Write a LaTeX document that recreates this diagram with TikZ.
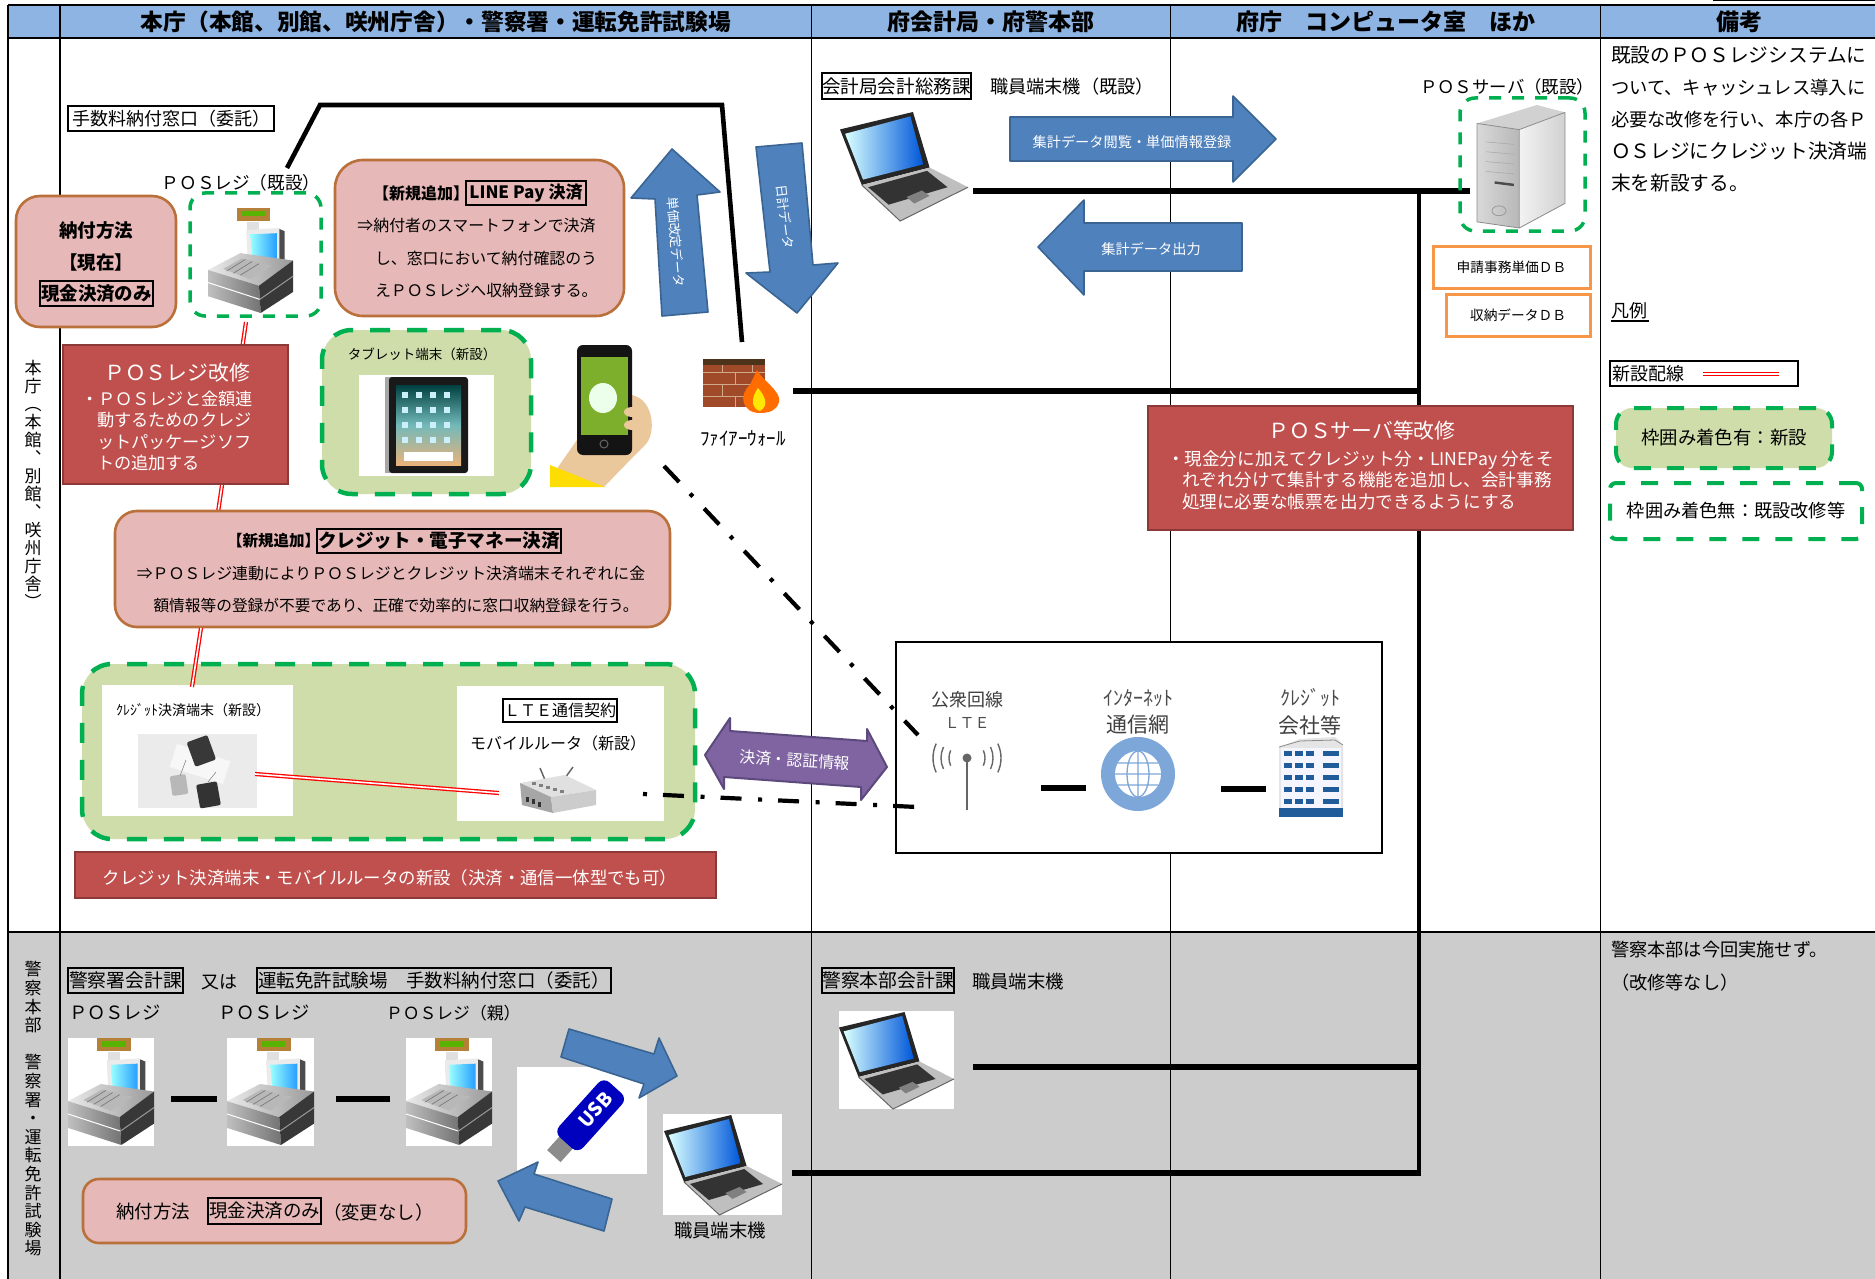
\documentclass[tikz,border=0pt]{standalone}
\usepackage{fontspec}
\setmainfont{Noto Sans CJK JP}
\lineskiplimit=-100pt
\definecolor{headblue}{HTML}{8DB4E2}
\definecolor{rowgray}{HTML}{CCCCCC}
\definecolor{pinkfill}{HTML}{E6B8B7}
\definecolor{pinkedge}{HTML}{B9703A}
\definecolor{redfill}{HTML}{C0504D}
\definecolor{rededge}{HTML}{8C3A38}
\definecolor{greenfill}{HTML}{CFDDAB}
\definecolor{dashgreen}{HTML}{00B050}
\definecolor{orangeedge}{HTML}{F79646}
\definecolor{bluefill}{HTML}{4F81BD}
\definecolor{blueedge}{HTML}{3A6593}
\definecolor{purplefill}{HTML}{8064A2}
\definecolor{purpleedge}{HTML}{5C4A7D}
\definecolor{globeblue}{HTML}{7DA7D9}
\definecolor{bldblue}{HTML}{1F5C99}
\definecolor{brick}{HTML}{A04A2A}
\definecolor{mortar}{HTML}{CFA98A}
\definecolor{phonegreen}{HTML}{7DAF2C}
\definecolor{skin}{HTML}{EBC79C}
\newcommand\bx[7]{%
  \pgfmathsetmacro\bxcx{(#3+#5)/2}\pgfmathsetmacro\bxcy{(#4+#6)/2}%
  \pgfmathsetmacro\bxw{#5-#3}\pgfmathsetmacro\bxh{#6-#4}%
  \node[#2,minimum width=\bxw pt,minimum height=\bxh pt,inner sep=0pt,outer sep=0pt] (#1) at (\bxcx,\bxcy) {#7};}
\newcommand\posimg[4]{\begin{scope}[shift={(#1,#2)},xscale=#3/100,yscale=#4/100]
  \fill[black!12] (46,13) rectangle (60,26);
  \fill[black!45!yellow!70!red] (34,0) rectangle (73,12);
  \fill[green!50!yellow!70!black] (40,3) rectangle (67,8);
  \fill[black!8] (45,21)--(84,19)--(84,55)--(47,53)--cycle;
  \fill[black!70] (84,20)--(90,22)--(90,54)--(84,54)--cycle;
  \shade[left color=cyan!40!white,right color=cyan!55!blue!85!white] (50,25)--(81,24)--(81,50)--(52,48)--cycle;
  \shade[left color=black!8,right color=black!40] (0,59)--(38,43)--(100,50)--(60,74)--cycle;
  \fill[black!28] (18,58)--(40,48)--(75,55)--(50,68)--cycle;
  \foreach \kk in {0,1,2}{\draw[black!55,line width=0.6pt] (22+\kk*8,60+\kk*2)--(44+\kk*8,49+\kk*2);}
  \shade[left color=black!25,right color=black!55] (0,59)--(60,74)--(62,100)--(0,84)--cycle;
  \draw[white,line width=1pt] (0,71)--(61,87);
  \fill[black!78] (60,74)--(100,50)--(100,80)--(62,100)--cycle;
  \draw[black!40,line width=1pt] (61,87)--(100,65);
\end{scope}}
\newcommand\laptopimg[4]{\begin{scope}[shift={(#1,#2)},xscale=#3/100,yscale=#4/100]
  \fill[black!85] (0,16)--(57,0)--(70,51)--(17,67)--cycle;
  \shade[left color=cyan!15!white,right color=blue!60!cyan!85!black] (4,20)--(55,4)--(65,48)--(18,62)--cycle;
  \fill[black!25] (17,67)--(70,51)--(100,69)--(47,100)--cycle;
  \fill[black!80] (22,69)--(68,54)--(84,69)--(38,85)--cycle;
  \fill[black!50] (52,78)--(64,72)--(70,77)--(58,84)--cycle;
  \draw[black!60,line width=1pt] (17,67)--(47,100)--(100,69);
\end{scope}}
\begin{document}
\begin{tikzpicture}[x=1pt,y=-1pt,
  fs/.style={font=\fontsize{#1}{#1}\selectfont},
  fl/.style n args={2}{font=\fontsize{#1}{#2}\selectfont},
  txt/.style={inner sep=0pt,outer sep=0pt,text=black},
  wtxt/.style={inner sep=0pt,outer sep=0pt,text=white},
  tag/.style={draw=black,line width=1.6pt,text=black},
  pinkbox/.style={draw=pinkedge,fill=pinkfill,line width=2.6pt,rounded corners=#1},
  redbox/.style={draw=rededge,fill=redfill,line width=2.4pt},
  greenbox/.style={draw=dashgreen,fill=greenfill,line width=4.5pt,rounded corners=30pt,dash pattern=on 20pt off 17pt},
  dashbox/.style={draw=dashgreen,line width=3.5pt,rounded corners=15pt,dash pattern=on 12pt off 11pt},
  orangebox/.style={draw=orangeedge,fill=white,line width=3pt,text=black},
  wire/.style={draw=black,line width=4.6pt},
  thinwire/.style={draw=black,line width=6pt},
  newwire/.style={draw=red,double=white,double distance=1.6pt,line width=1.3pt},
  dashdot/.style={draw=black,line width=4.2pt,dash pattern=on 22pt off 16pt on 4pt off 16.4pt},
  blueshape/.style={fill=bluefill,draw=blueedge,line width=1.6pt,line join=round},
  grid/.style={draw=black}]
\useasboundingbox (0,0) rectangle (1875,1279);
\fill[white] (0,0) rectangle (1875,1279);
% table
\fill[rowgray] (8,932) rectangle (1875,1279);
\fill[headblue] (8,5) rectangle (1875,38);
\draw[grid,line width=1.6pt] (8,5)--(1875,5);
\draw[grid,line width=2.2pt] (8,38)--(1875,38);
\draw[grid,line width=2.4pt] (8,932)--(1875,932);
\draw[grid,line width=1.4pt] (8,5)--(8,1279);
\draw[grid,line width=2pt] (60,5)--(60,1279);
\draw[grid,line width=1pt] (811.5,5)--(811.5,1279);
\draw[grid,line width=1pt] (1170,5)--(1170,1279);
\draw[grid,line width=1.6pt] (1600.5,5)--(1600.5,1279);
\draw[grid,line width=1.6pt] (1713,0.5)--(1875,0.5);
\node[txt,font=\fontsize{22.7}{22.7}\selectfont\bfseries] (h1) at (436,22) {本庁（本館、別館、咲州庁舎）・警察署・運転免許試験場};
\node[txt,font=\fontsize{23}{23}\selectfont\bfseries] (h2) at (990.5,22) {府会計局・府警本部};
\node[txt,font=\fontsize{23}{23}\selectfont\bfseries] (h3) at (1386,22) {府庁　コンピュータ室　ほか};
\node[txt,font=\fontsize{23}{23}\selectfont\bfseries] (h4) at (1739,22) {備考};
\node[txt,fl={17}{18},align=center] (r1) at (33,484) {本\\庁\\︵\\本\\館\\︑\\別\\館\\︑\\咲\\州\\庁\\舎\\︶};
\node[txt,fl={17}{18.6},align=center] (r2) at (33,1109) {警\\察\\本\\部\\　\\警\\察\\署\\・\\運\\転\\免\\許\\試\\験\\場};
% wires
\coordinate (w1) at (287,168);\coordinate (w2) at (320,105);\coordinate (w3) at (722,105);\coordinate (w4) at (742,342);
\draw[wire,line join=miter] (w1)--(w2)--(w3)--(w4);
\coordinate (lapR) at (973,191);\coordinate (srvL) at (1470,191);
\draw[thinwire] (lapR)--(srvL);
\coordinate (fwR) at (793,391);\coordinate (busA) at (1419,391);
\draw[thinwire] (fwR)--(busA);
\coordinate (busTop) at (1419,191);\coordinate (busBot) at (1419,1176);
\draw[wire] (busTop)--(busBot);
\coordinate (lap2R) at (973,1067);\coordinate (busB) at (1419,1067);
\draw[thinwire] (lap2R)--(busB);
\coordinate (lap3R) at (792,1173);\coordinate (busC) at (1421,1173);
\draw[thinwire] (lap3R)--(busC);
\coordinate (r1a) at (246,322);\coordinate (r1b) at (201,628);
\draw[newwire] (r1a)--(r1b);
% blue arrows, top
\draw[blueshape] (672,149)--(720,192)--(697,195)--(708,312)--(662,316)--(655,199)--(631,198)--cycle;
\node[wtxt,fs=13,rotate=-85] (ta1) at (676,242) {単価改定データ};
\draw[blueshape] (756,147)--(802,143)--(813,265)--(838,263)--(797,313)--(746,273)--(770,272)--cycle;
\node[wtxt,fs=13,rotate=-83] (ta2) at (785,217) {日計データ};
\draw[blueshape] (1010,117)--(1233,117)--(1233,96)--(1276,139)--(1233,182)--(1233,161)--(1010,161)--cycle;
\node[wtxt,fs=14.2] (ta3) at (1132,142) {集計データ閲覧・単価情報登録};
\draw[blueshape] (1038,247)--(1084,200)--(1084,223)--(1242,223)--(1242,271)--(1084,271)--(1084,295)--cycle;
\node[wtxt,fs=14.2] (ta4) at (1151,249) {集計データ出力};
% top left
\bx{tagA}{tag,fs=18}{68}{106}{274}{131}{手数料納付窓口（委託）}
\node[txt,fs=17.6] (posLbl) at (241,183) {ＰＯＳレジ（既設）};
\bx{posBox}{dashbox}{190}{193}{321}{316}{}
\posimg{208}{208}{85}{105}
\bx{payBox}{pinkbox=24pt}{16}{196}{176}{327}{}
\node[txt,fl={18.5}{32}\bfseries,align=center] (payT) at (96,246) {納付方法\\【現在】};
\bx{payTag}{tag,font=\fontsize{18.5}{18.5}\selectfont\bfseries}{40}{281}{153}{306}{現金決済のみ}
% LINE Pay
\bx{lineBox}{pinkbox=28pt}{335}{160}{624}{316}{}
\bx{lineTag}{tag,line width=1.3pt,font=\fontsize{17}{17}\selectfont\bfseries}{466}{181}{586}{205}{LINE Pay 決済}
\node[txt,anchor=east,font=\fontsize{16}{16}\selectfont\bfseries] (lineHd) at (469,193) {【新規追加】};
\node[txt,fs=15.9] (lineL1) at (476.5,226) {⇒納付者のスマートフォンで決済};
\node[txt,fs=15.9,anchor=west] (lineL2) at (375,258) {し、窓口において納付確認のう};
\node[txt,fs=15.9,anchor=west] (lineL3) at (375,290) {えＰＯＳレジへ収納登録する。};
% red POS
\bx{redPOS}{redbox}{63}{345}{288}{484}{}
\node[wtxt,fs=20.8] (redPOSt) at (177,373) {ＰＯＳレジ改修};
\node[wtxt,fl={17.2}{21.3},align=left,anchor=west] (redPOSb) at (81,431) {・ＰＯＳレジと金額連\\\hspace*{16pt}動するためのクレジ\\\hspace*{16pt}ットパッケージソフ\\\hspace*{16pt}トの追加する};
% tablet
\bx{tabBox}{greenbox}{322}{330}{531}{494}{}
\node[txt,fs=13.5] (tabLbl) at (422,354) {タブレット端末（新設）};
\bx{tabWhite}{fill=white}{359}{375}{494}{476}{}
\fill[black!35] (385,377) rectangle (394,473);
\fill[black!90,rounded corners=3pt] (389,377) rectangle (468,473);
\shade[top color=teal!50!black,bottom color=orange!45!brown!60!white,middle color=teal!55!white] (396,385) rectangle (461,465);
\foreach \ix in {0,1,2,3}{\foreach \iy in {0,1,2,3}{\fill[white!80!cyan] (402+\ix*14,392+\iy*15) rectangle ++(6,6);}}
\fill[white!75] (404,452) rectangle (453,461);
% phone
\fill[skin] (632,395) .. controls (655,400) and (656,435) .. (645,445) -- (632,458) -- (604,487) -- (556,470) -- (577,440) -- cycle;
\fill[yellow!80!orange] (550,465)--(605,487)--(550,487)--cycle;
\fill[black!92,rounded corners=6pt] (577,345) rectangle (632,455);
\fill[phonegreen] (581,357) rectangle (628,435);
\fill[white!92!green] (603,398) ellipse (14 and 15);
\fill[skin] (632,412) ellipse (8 and 5) (632,425) ellipse (8 and 5);
\draw[black!60,line width=1pt] (604,444) circle (4);
% firewall
\fill[brick] (703,359) rectangle (765,407);
\fill[black!60!brown] (703,359) rectangle (765,365);
\foreach \yy in {372,384,396}{\draw[mortar,line width=1pt] (703,\yy)--(765,\yy);}
\foreach \xx in {722,752}{\draw[mortar,line width=1pt] (\xx,365)--(\xx,372) (\xx,384)--(\xx,396);}
\foreach \xx in {735}{\draw[mortar,line width=1pt] (\xx,372)--(\xx,384) (\xx,396)--(\xx,407);}
\fill[orange!85!red] (760,413) .. controls (742,413) and (738,395) .. (750,385) .. controls (752,380) and (755,375) .. (757,370) .. controls (762,380) and (782,392) .. (779,402) .. controls (777,410) and (770,413) .. (760,413) -- cycle;
\fill[yellow!90!orange] (760,411) .. controls (752,409) and (750,399) .. (758,388) .. controls (764,395) and (770,405) .. (760,411) -- cycle;
\node[txt,fs=19] (fwLbl) at (743,438) {ﾌｧｲｱｰｳｫｰﾙ};
% credit pink box
\bx{crBox}{pinkbox=22pt}{115}{511}{670}{627}{}
\bx{crTag}{tag,line width=1.3pt,font=\fontsize{18.6}{18.6}\selectfont\bfseries}{317}{529}{561}{553}{クレジット・電子マネー決済}
\node[txt,anchor=east,font=\fontsize{15.5}{15.5}\selectfont\bfseries] (crHd) at (320,541) {【新規追加】};
\node[txt,fs=15.9] (crL1) at (391,574) {⇒ＰＯＳレジ連動によりＰＯＳレジとクレジット決済端末それぞれに金};
\node[txt,fs=15.7] (crL2) at (396,606) {額情報等の登録が不要であり、正確で効率的に窓口収納登録を行う。};
% big green
\bx{bigBox}{greenbox}{82}{664}{695}{839}{}
\bx{cardWhite}{fill=white}{102}{685}{293}{816}{}
\bx{rtWhite}{fill=white}{457}{686}{664}{821}{}
\coordinate (r1c) at (201,628);\coordinate (r1d) at (192,687);
\draw[newwire] (r1c)--(r1d);
\node[txt,fs=14] (cardLbl) at (193,710) {ｸﾚｼﾞｯﾄ決済端末（新設）};
\fill[black!8] (138,734) rectangle (257,808);
\fill[black!3,rotate around={-18:(200,764)}] (172,752) rectangle (228,776);
\fill[black!78,rounded corners=2pt,rotate around={20:(201,750)}] (190,738) rectangle (212,764);
\fill[black!28,rounded corners=2pt,rotate around={8:(179,785)}] (171,775) rectangle (187,795);
\fill[black!80,rounded corners=2pt,rotate around={10:(208,795)}] (198,783) rectangle (219,807);
\draw[black!45,line width=0.6pt] (180,776)--(186,760) (208,782)--(216,772);
\bx{lteTag}{tag,fs=16}{503}{699}{617}{722}{ＬＴＥ通信契約}
\node[txt,fs=16] (rtLbl) at (558,743) {モバイルルータ（新設）};
\draw[black!60,line width=1.5pt] (545,780)--(540,768) (565,778)--(573,767);
\fill[black!12] (520,783)--(565,775)--(596,790)--(551,797)--cycle;
\fill[black!35] (520,783)--(551,797)--(553,813)--(522,805)--cycle;
\fill[black!20] (551,797)--(596,790)--(596,805)--(553,813)--cycle;
\foreach \dx in {0,7,14,21,28}{\fill[black!50] (532+\dx,782+0.3*\dx) rectangle ++(4,3);}
\foreach \dx in {0,6,12}{\fill[black!80] (526+\dx,797+0.4*\dx) rectangle ++(3,5);}
\coordinate (c1) at (255,774);\coordinate (c2) at (499,793);
\draw[newwire] (c1)--(c2);
\bx{redBar}{redbox}{75}{852}{716}{898}{}
\node[wtxt,fs=17.4] (redBarT) at (390,878) {クレジット決済端末・モバイルルータの新設（決済・通信一体型でも可）};
% purple arrow
\draw[fill=purplefill,draw=purpleedge,line width=2pt,line join=round] (705,755)--(730,718)--(730,731)--(867,741)--(867,729)--(887,767)--(861,800)--(861,787)--(724,777)--(724,789)--cycle;
\node[wtxt,fs=15.8,rotate=-4] (purT) at (795,760) {決済・認証情報};
% network box
\bx{netBox}{draw=black,fill=white,line width=1.6pt}{896}{642}{1382}{853}{}
\coordinate (d1a) at (664,466);\coordinate (d1b) at (918,735);
\draw[dashdot] (d1a)--(d1b);
\coordinate (d2a) at (643,794);\coordinate (d2b) at (917,807);
\draw[dashdot,dash pattern=on 4pt off 16pt on 21pt off 16.6pt] (d2a)--(d2b);
\node[txt,fs=18,text=black!75] (n1) at (967,700) {公衆回線};
\node[txt,fs=15,text=black!70] (n2) at (967,723) {ＬＴＥ};
\draw[black!60,line width=2pt] (967,758)--(967,810);
\fill[black!60] (967,758) circle (4.5);
\foreach \rr in {18,26,34}{\draw[black!60,line width=1.4pt] (967,758) ++(-25:\rr) arc (-25:25:\rr);\draw[black!60,line width=1.4pt] (967,758) ++(155:\rr) arc (155:205:\rr);}
\node[txt,fs=20,text=black!70] (n3) at (1138,698) {ｲﾝﾀｰﾈｯﾄ};
\node[txt,fs=21,text=black!75] (n4) at (1138,725) {通信網};
\fill[globeblue] (1138,774) circle (37);
\fill[white] (1138,774) circle (23);
\draw[globeblue,line width=1.3pt] (1138,774) ellipse (11 and 23) (1138,751)--(1138,797) (1115,774)--(1161,774) (1118,763)--(1158,763) (1118,785)--(1158,785);
\node[txt,fs=20,text=black!70] (n5) at (1310,698) {ｸﾚｼﾞｯﾄ};
\node[txt,fs=21,text=black!75] (n6) at (1310,725) {会社等};
\fill[black!10] (1279,747) -- (1300,739) -- (1335,737) -- (1343,745) -- (1343,812) -- (1279,812) -- cycle;
\draw[black!45,line width=0.8pt] (1279,747)--(1300,741)--(1335,740)--(1343,745);
\fill[white!96!blue] (1281,748) rectangle (1341,808);
\foreach \wy in {751,763,775,787,799}{%
  \foreach \wx in {1284,1295,1306}{\fill[bldblue] (\wx,\wy) rectangle ++(8,5);}
  \fill[bldblue] (1323,\wy) rectangle ++(16,5);}
\fill[bldblue] (1279,808) rectangle (1343,817);
\coordinate (nl1a) at (1041,788);\coordinate (nl1b) at (1086,788);
\draw[thinwire] (nl1a)--(nl1b);
\coordinate (nl2a) at (1221,789);\coordinate (nl2b) at (1266,789);
\draw[thinwire] (nl2a)--(nl2b);
% FU section
\bx{tagB}{tag,fs=18.6}{822}{73}{971}{99}{会計局会計総務課}
\node[txt,fs=18.2,anchor=west] (termLbl) at (990,87) {職員端末機（既設）};
\laptopimg{840}{112}{128}{109}
\node[txt,fs=17.4,anchor=east] (srvLbl) at (1594,87) {ＰＯＳサーバ（既設）};
\bx{srvBox}{dashbox}{1460}{98}{1585}{231}{}
\begin{scope}[shift={(1477,105)},xscale=0.88,yscale=1.23]
\fill[black!18] (0,15)--(68,0)--(100,6)--(48,20)--cycle;
\shade[left color=black!15,right color=black!28] (0,15)--(48,20)--(48,100)--(0,95)--cycle;
\shade[left color=black!5,right color=black!18] (48,20)--(100,6)--(100,80)--(48,100)--cycle;
\draw[black!45,line width=0.8pt] (0,15)--(48,20)--(100,6) (48,20)--(48,100)--(0,95)--(0,15) (48,100)--(100,80)--(100,6);
\foreach \sy in {30,38,46,54}{\draw[black!35,line width=0.5pt] (10,\sy)--(42,\sy+2);}
\fill[black!70] (20,62)--(42,64)--(42,66)--(20,64)--cycle;
\draw[black!40,line width=0.8pt] (25,86) ellipse (8 and 4);
\end{scope}
\bx{db1}{orangebox,fs=13.7}{1433}{246}{1590}{288}{\raisebox{-2pt}{申請事務単価ＤＢ}}
\bx{db2}{orangebox,fs=13.7}{1446}{294}{1590}{336}{\raisebox{-2pt}{収納データＤＢ}}
\bx{redSrv}{redbox}{1148}{406}{1573}{530}{}
\node[wtxt,fs=20.8] (redSrvT) at (1362,431) {ＰＯＳサーバ等改修};
\node[wtxt,fl={17.6}{21.5},align=left,anchor=west] (redSrvB) at (1167,480) {・現金分に加えてクレジット分・LINEPay 分をそ\\\hspace*{15pt}れぞれ分けて集計する機能を追加し、会計事務\\\hspace*{15pt}処理に必要な帳票を出力できるようにする};
% remarks
\node[txt,fs=19.7,anchor=west] (rm1) at (1611,55) {既設のＰＯＳレジシステムに};
\node[txt,fs=18.3,anchor=west] (rm2) at (1611,87.5) {ついて、キャッシュレス導入に};
\node[txt,fs=18.3,anchor=west] (rm3) at (1611,119.5) {必要な改修を行い、本庁の各Ｐ};
\node[txt,fs=19.7,anchor=west] (rm4) at (1611,151) {ＯＳレジにクレジット決済端};
\node[txt,fs=19.7,anchor=west] (rm5) at (1611,183) {末を新設する。};
\node[txt,fs=18,anchor=west] (lg0) at (1611,311) {凡例};
\coordinate (lgU1) at (1611,321);\coordinate (lgU2) at (1649,321);
\draw[black,line width=2.4pt] (lgU1)--(lgU2);
\bx{lg1}{draw=black,fill=white,line width=2pt}{1610}{361}{1798}{386}{}
\node[txt,fs=18,anchor=west] (lg1t) at (1612,374) {新設配線};
\coordinate (lgA) at (1703,374);\coordinate (lgB) at (1779,374);
\draw[newwire] (lgA)--(lgB);
\bx{lg2}{greenbox,rounded corners=16pt,line width=4pt,dash pattern=on 17pt off 16pt,fs=18.4}{1616}{408}{1832}{468}{\raisebox{-1pt}{枠囲み着色有：新設}}
\bx{lg3}{dashbox,rounded corners=6pt,line width=4pt,dash pattern=on 17pt off 16pt,fs=18.2}{1610}{483}{1862}{539}{\raisebox{-1pt}{枠囲み着色無：既設改修等}}
% lower row
\bx{tagC}{tag,fs=18.8}{68}{968}{183}{993}{\raisebox{-1pt}{警察署会計課}}
\node[txt,fs=18] (orT) at (219,982) {又は};
\bx{tagD}{tag,fs=18.5}{257}{968}{611}{993}{\raisebox{-1pt}{運転免許試験場　手数料納付窓口（委託）}}
\node[txt,fs=18.3,anchor=west] (p1) at (69,1013) {ＰＯＳレジ};
\node[txt,fs=18.3,anchor=west] (p2) at (218,1013) {ＰＯＳレジ};
\node[txt,fs=16.8,anchor=west] (p3) at (386,1013) {ＰＯＳレジ（親）};
\bx{pw1}{fill=white}{68}{1038}{154}{1146}{}
\bx{pw2}{fill=white}{227}{1038}{314}{1146}{}
\bx{pw3}{fill=white}{406}{1038}{492}{1146}{}
\posimg{68}{1038}{86}{107}
\posimg{227}{1038}{87}{107}
\posimg{406}{1038}{86}{107}
\coordinate (pa) at (171,1099);\coordinate (pb) at (217,1099);
\draw[thinwire] (pa)--(pb);
\coordinate (pc) at (336,1099);\coordinate (pd) at (390,1099);
\draw[thinwire] (pc)--(pd);
\bx{usbWhite}{fill=white}{517}{1067}{647}{1174}{}
\begin{scope}[shift={(590,1116)},rotate=48]
\fill[black!45] (-54,-9) rectangle (-34,9);
\fill[blue!75!black,rounded corners=8pt] (-36,-16) rectangle (38,16);
\node[wtxt,rotate=48,font=\fontsize{19}{19}\selectfont\bfseries] (usbT) at (8,0) {USB};
\end{scope}
\draw[blueshape] (569,1029)--(654,1054)--(659,1038)--(677,1076)--(639,1098)--(644,1084)--(561,1057)--cycle;
\draw[blueshape] (498,1181)--(538,1162)--(534,1174)--(612,1199)--(604,1231)--(525,1207)--(519,1221)--cycle;
\bx{lapWhite}{fill=white}{663}{1114}{782}{1215}{}
\laptopimg{664}{1115}{118}{100}
\node[txt,fs=18.4] (termB) at (720,1231) {職員端末機};
\bx{cashBox}{pinkbox=16pt}{83}{1179}{466}{1243}{}
\bx{cashTag}{tag,fs=18.5}{208}{1198}{321}{1224}{\raisebox{-1pt}{現金決済のみ}}
\node[txt,fs=18.4,anchor=east] (cashL) at (190,1212) {納付方法};
\node[txt,fs=18.4,anchor=west] (cashR) at (323,1212) {（変更なし）};
\bx{tagE}{tag,fs=18.8}{822}{968}{954}{993}{\raisebox{-1pt}{警察本部会計課}}
\node[txt,fs=18.4] (termC) at (1018,982) {職員端末機};
\bx{lapW2}{fill=white}{839}{1011}{954}{1109}{}
\laptopimg{839}{1012}{115}{97}
\node[txt,fs=18.2,anchor=west] (rm6) at (1611,950) {警察本部は今回実施せず。};
\node[txt,fs=18.2,anchor=west] (rm7) at (1611,983) {（改修等なし）};
\end{tikzpicture}
\end{document}
